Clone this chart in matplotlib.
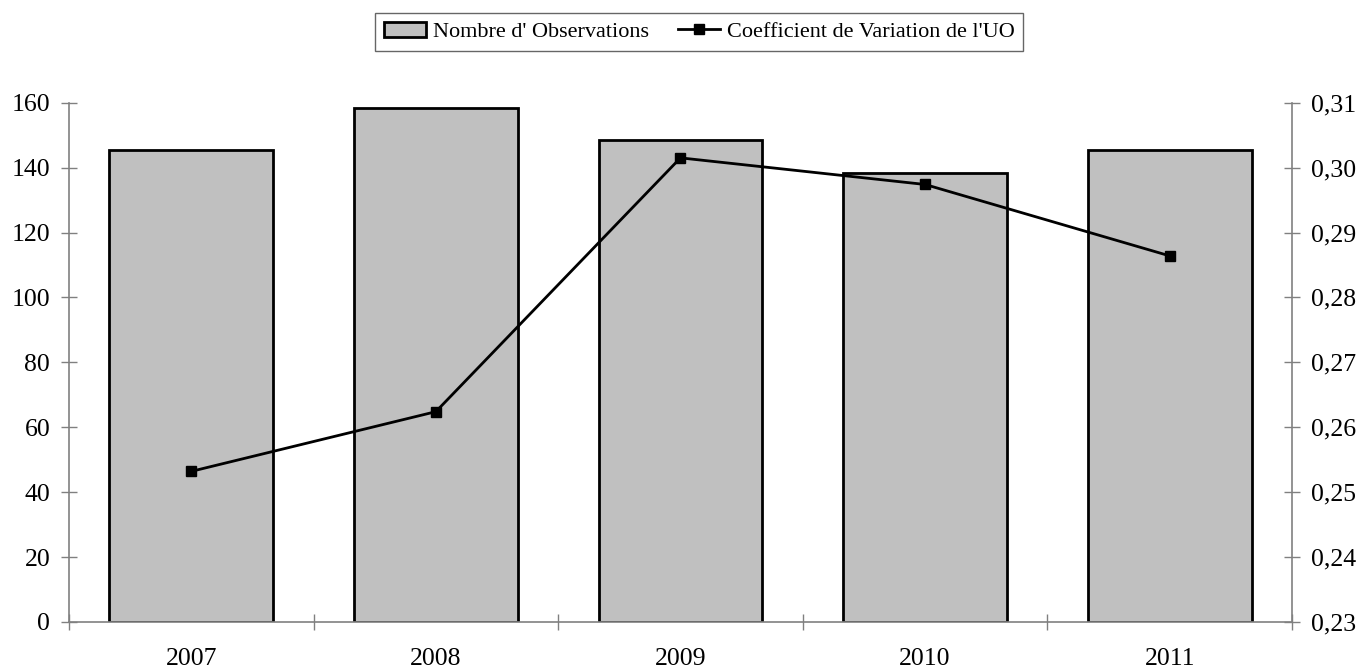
import numpy as np
import matplotlib.pyplot as plt

# Values
years = ['2007', '2008', '2009', '2010', '2011']
observations = [145.5, 158.5, 148.5, 138.3, 145.5]
coef_variation = [0.2532, 0.2624, 0.3015, 0.2974, 0.2864]

plt.rcParams['font.family'] = ['Liberation Serif', 'DejaVu Serif']
plt.rcParams['font.size'] = 18.5

fig = plt.figure(figsize=(13.57, 6.69), dpi=100, facecolor='white')
ax = fig.add_axes([0.0508, 0.0703, 0.9013, 0.7762])
ax2 = ax.twinx()

x = np.arange(len(years))
bars = ax.bar(x, observations, width=0.67, color='#C0C0C0', edgecolor='black',
              linewidth=2, label="Nombre d' Observations", zorder=2)
line, = ax2.plot(x, coef_variation, color='black', linewidth=2, marker='s',
                 markersize=7, label="Coefficient de Variation de l'UO")

ax.set_xlim(-0.5, len(years) - 0.5)
ax.set_ylim(0, 160)
ax.set_yticks(np.arange(0, 161, 20))
ax2.set_ylim(0.23, 0.31)
ax2.set_yticks(np.arange(0.23, 0.3101, 0.01))
ax2.set_yticklabels([f"{v:.2f}".replace('.', ',') for v in np.arange(0.23, 0.3101, 0.01)])

# category boundaries as ticks, labels centred on categories
ax.set_xticks(np.arange(-0.5, len(years), 1.0))
ax.set_xticklabels([])
ax.set_xticks(x, minor=True)
ax.set_xticklabels(years, minor=True)
ax.tick_params(axis='x', which='minor', length=0, pad=19)
ax.tick_params(axis='x', which='major', direction='inout', length=12, width=1, color='#808080')
ax.tick_params(axis='y', direction='inout', length=11, width=1, color='#808080', pad=8)
ax2.tick_params(axis='y', direction='inout', length=11, width=1, color='#808080', pad=8)

for a in (ax, ax2):
    a.spines['top'].set_visible(False)
    for s in ('left', 'right', 'bottom'):
        a.spines[s].set_color('#808080')
        a.spines[s].set_linewidth(1.2)
ax.spines['right'].set_visible(False)
ax2.spines['left'].set_visible(False)
ax2.spines['bottom'].set_visible(False)

leg = fig.legend([bars, line], [bars.get_label(), line.get_label()],
                 loc='upper left', bbox_to_anchor=(375 / 1357, 1 - 12.7 / 669), ncol=2,
                 frameon=True, fancybox=False, handlelength=1.9,
                 handletextpad=0.3, columnspacing=1.3, borderpad=0.4,
                 borderaxespad=0, fontsize=16)
leg.get_frame().set_edgecolor('#404040')
leg.get_frame().set_linewidth(1)

fig.savefig('out.png', dpi=100, facecolor='white')
